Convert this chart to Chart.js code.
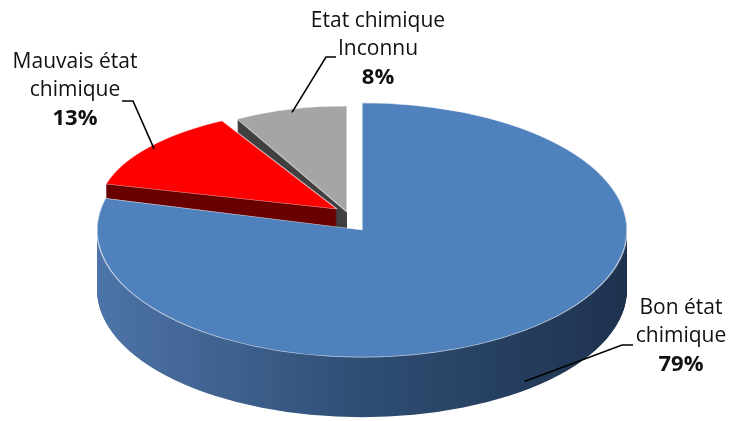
<!DOCTYPE html>
<html>
<head>
<meta charset="utf-8">
<script src="https://cdn.jsdelivr.net/npm/chart.js@4/dist/chart.umd.min.js"></script>
<style>
  html, body { margin: 0; padding: 0; background: #fff; }
  #wrap { width: 729px; height: 421px; }
</style>
</head>
<body>
<div id="wrap"><canvas id="chart"></canvas></div>
<script>
var labels = [['Bon état', 'chimique'], ['Mauvais état', 'chimique'], ['Etat chimique', 'Inconnu']];
var values = [79, 13, 8];
var topColors = ['#4f81bd', '#ff0000', '#a5a5a5'];
var sideColors = [null, '#6a0000', '#404040'];

// how each slice sits in the tilted view: pull-out (screen px), scale and
// wall height; the far slices a little smaller to fake perspective
var slicePos = [
	{ dx: 0, dy: 0, sx: 1, ky: 0.48, depth: 60 },
	{ dx: -25, dy: -21, sx: 0.9, ky: 0.38, depth: 22 },
	{ dx: -15, dy: -18, sx: 0.86, ky: 0.40, depth: 30 }
];

// label block: centre x, first baseline, leader start x / elbow x / y
var labelPos = [
	{ x: 681, y: 314, lx: 633, ex: 622, ly: 345 },
	{ x: 75, y: 68, lx: 122, ex: 133, ly: 101 },
	{ x: 378, y: 27, lx: 336, ex: 326, ly: 57 }
];

var CY = 230;     // screen y of the pie centre

var total = values.reduce(function (s, v) { return s + v; }, 0);

function tilt(ctx, a, i, d) {
	var p = slicePos[i];
	ctx.translate(a.x + p.dx, CY + p.dy + d);
	ctx.scale(p.sx, p.ky);
	ctx.translate(-a.x, -a.y);
}

var pie3d = {
	id: 'pie3d',
	beforeDatasetsDraw: function (chart) {
		var ctx = chart.ctx;
		var arcs = chart.getDatasetMeta(0).data;

		// walls, back slices first
		for (var i = arcs.length - 1; i >= 0; i--) {
			var a = arcs[i];
			var fill = sideColors[i];
			if (!fill) {
				fill = ctx.createLinearGradient(a.x - a.outerRadius, 0, a.x + a.outerRadius, 0);
				fill.addColorStop(0, '#4d74a8');
				fill.addColorStop(0.5, '#2f4e74');
				fill.addColorStop(1, '#1e324e');
			}
			for (var d = slicePos[i].depth; d > 0; d--) {
				ctx.save();
				tilt(ctx, a, i, d);
				ctx.beginPath();
				ctx.moveTo(a.x, a.y);
				ctx.arc(a.x, a.y, a.outerRadius, a.startAngle, a.endAngle);
				ctx.closePath();
				ctx.fillStyle = fill;
				ctx.fill();
				ctx.restore();
			}
		}

		// top faces, drawn by the arc elements themselves
		arcs.forEach(function (a, i) {
			ctx.save();
			tilt(ctx, a, i, 0);
			a.draw(ctx);
			ctx.restore();
		});
		return false;
	},
	afterDraw: function (chart) {
		var ctx = chart.ctx;
		var arcs = chart.getDatasetMeta(0).data;
		arcs.forEach(function (a, i) {
			var sp = slicePos[i];
			var h = (a.startAngle + a.endAngle) / 2;
			var r = a.outerRadius * (i === 0 ? 1 : 0.97);
			var ax = a.x + sp.dx + Math.cos(h) * r * sp.sx;
			var ay = CY + sp.dy + Math.sin(h) * r * sp.ky + (i === 0 ? sp.depth * 0.85 : 0);
			var p = labelPos[i];

			ctx.save();
			ctx.strokeStyle = '#000';
			ctx.lineWidth = 1.6;
			ctx.beginPath();
			ctx.moveTo(p.lx, p.ly);
			ctx.lineTo(p.ex, p.ly);
			ctx.lineTo(ax, ay);
			ctx.stroke();

			ctx.fillStyle = '#111';
			ctx.textAlign = 'center';
			ctx.textBaseline = 'alphabetic';
			ctx.font = '21px "Open Sans"';
			labels[i].forEach(function (t, j) {
				ctx.fillText(t, p.x, p.y + j * 28);
			});
			ctx.font = 'bold 22px "Open Sans"';
			ctx.fillText(Math.round(values[i] / total * 100) + '%', p.x, p.y + 57);
			ctx.restore();
		});
	}
};

var ctx = document.getElementById('chart').getContext('2d');
var chart = new Chart(ctx, {
	type: 'pie',
	data: {
		labels: labels.map(function (l) { return l.join(' '); }),
		datasets: [{
			data: values,
			backgroundColor: topColors,
			borderColor: 'rgba(255,255,255,0.65)',
			borderWidth: 1.5,
			radius: 265
		}]
	},
	options: {
		responsive: true,
		maintainAspectRatio: false,
		animation: false,
		events: [],
		layout: { padding: { top: 43, right: 5 } },
		plugins: {
			legend: { display: false },
			tooltip: { enabled: false }
		}
	},
	plugins: [pie3d]
});
</script>
</body>
</html>
